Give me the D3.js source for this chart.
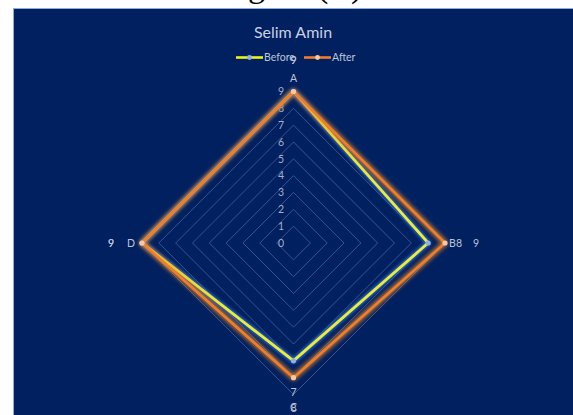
<!DOCTYPE html>
<html>
<head>
<meta charset="utf-8">
<script src="https://cdn.jsdelivr.net/npm/d3@7"></script>
<style>
  html, body { margin: 0; padding: 0; background: #ffffff; }
  svg { display: block; }
</style>
</head>
<body>
<svg id="chart" width="573" height="415"></svg>
<script>
// Radar chart data
const categories = ["A", "B", "C", "D"];
const beforeValues = [9, 8, 7, 9];
const afterValues = [9, 9, 8, 9];
const tickValues = [0, 1, 2, 3, 4, 5, 6, 7, 8, 9];
const seriesNames = ["Before", "After"];

const W = 573, H = 415;
const cx = 293.5, cy = 243;
const maxR = 151.5;

const svg = d3.select("#chart");

// Figure caption, partly above the page edge
svg.append("text")
  .attr("x", 291).attr("y", -3.5)
  .attr("text-anchor", "middle")
  .attr("font-family", "Liberation Serif, Times New Roman, serif")
  .attr("font-size", 34)
  .attr("fill", "#000")
  .text("Figure (C)");

// Chart area
svg.append("rect")
  .attr("x", 13.5).attr("y", 8.5)
  .attr("width", W).attr("height", H)
  .attr("fill", "#002060")
  .attr("stroke", "#8faadc")
  .attr("stroke-width", 1);

const defs = svg.append("defs");
function glow(id, color, dil, sd, op) {
  const f = defs.append("filter").attr("id", id)
    .attr("x", "-20%").attr("y", "-20%").attr("width", "140%").attr("height", "140%");
  f.append("feMorphology").attr("in", "SourceAlpha").attr("operator", "dilate").attr("radius", dil).attr("result", "thick");
  f.append("feGaussianBlur").attr("in", "thick").attr("stdDeviation", sd).attr("result", "blur");
  f.append("feFlood").attr("flood-color", color).attr("flood-opacity", op);
  f.append("feComposite").attr("in2", "blur").attr("operator", "in").attr("result", "glowc");
  const m = f.append("feMerge");
  m.append("feMergeNode").attr("in", "glowc");
  m.append("feMergeNode").attr("in", "SourceGraphic");
}
glow("glowBefore", "#3a7ad8", 0.8, 1.6, 0.8);
glow("glowAfter", "#f08a20", 1.0, 1.9, 0.8);

const r = d3.scaleLinear().domain([0, 9]).range([0, maxR]);
const angle = d3.scaleBand().domain(categories).range([0, 2 * Math.PI]).paddingInner(0).paddingOuter(0);
const ang = c => angle(c) - Math.PI / 2;
const px = (c, v) => cx + r(v) * Math.cos(ang(c));
const py = (c, v) => cy + r(v) * Math.sin(ang(c));

const font = "Lato, Carlito, Calibri, 'Open Sans', sans-serif";
const textColor = "#bcc4d8";

// Title
svg.append("text")
  .attr("x", 293).attr("y", 37.5)
  .attr("text-anchor", "middle")
  .attr("font-family", font)
  .attr("font-size", 16)
  .attr("fill", "#c9d0e0")
  .text("Selim Amin");

// Grid rings
const g = svg.append("g");
tickValues.filter(t => t > 0).forEach(t => {
  g.append("polygon")
    .attr("points", categories.map(c => [px(c, t), py(c, t)].join(",")).join(" "))
    .attr("fill", "none")
    .attr("stroke", "#5d76ad")
    .attr("stroke-opacity", 0.6)
    .attr("stroke-width", 1);
});

// Value axis labels
tickValues.forEach(t => {
  g.append("text")
    .attr("x", 284).attr("y", cy - r(t))
    .attr("dy", "0.35em")
    .attr("text-anchor", "end")
    .attr("font-family", font)
    .attr("font-size", 10.5)
    .attr("fill", "#a4aec8")
    .text(t);
});

// Series
const series = [
  { name: seriesNames[0], values: beforeValues, line: "#ecf21a", marker: "#8fb0e0", filter: "glowBefore" },
  { name: seriesNames[1], values: afterValues, line: "#ef7d2c", marker: "#f8c8a6", filter: "glowAfter" }
];

const lineGen = d3.line().x(d => px(d.c, d.v)).y(d => py(d.c, d.v)).curve(d3.curveLinearClosed);

series.forEach(s => {
  const pts = categories.map((c, i) => ({ c, v: s.values[i] }));
  svg.append("path")
    .attr("d", lineGen(pts))
    .attr("fill", "none")
    .attr("stroke", s.line)
    .attr("stroke-width", 2.6)
    .attr("stroke-linejoin", "miter")
    .attr("filter", `url(#${s.filter})`);
});
series.forEach(s => {
  categories.forEach((c, i) => {
    svg.append("circle")
      .attr("cx", px(c, s.values[i])).attr("cy", py(c, s.values[i]))
      .attr("r", 2.6)
      .attr("fill", s.marker);
  });
});

// Category labels
const labR = maxR + 13;
const labelShift = { A: [0, 0], B: [-9, 0], C: [0, 0], D: [6, 0] };
categories.forEach(c => {
  const a = ang(c);
  const x = cx + labR * Math.cos(a), y = cy + labR * Math.sin(a);
  const anchor = Math.abs(Math.cos(a)) < 0.1 ? "middle" : (Math.cos(a) > 0 ? "start" : "end");
  svg.append("text")
    .attr("x", x + labelShift[c][0]).attr("y", y + labelShift[c][1])
    .attr("dy", "0.35em")
    .attr("text-anchor", anchor)
    .attr("font-family", font)
    .attr("font-size", 10.5)
    .attr("fill", textColor)
    .text(c);
});

// Data labels, placed just outside each point
series.forEach(s => {
  categories.forEach((c, i) => {
    const v = s.values[i];
    const rr = r(v) + 31;
    svg.append("text")
      .attr("x", cx + rr * Math.cos(ang(c))).attr("y", cy + rr * Math.sin(ang(c)))
      .attr("dy", "0.35em")
      .attr("text-anchor", "middle")
      .attr("font-family", font)
      .attr("font-size", 10.5)
      .attr("fill", textColor)
      .text(v);
  });
});

// Legend
const legend = svg.append("g").attr("font-family", font).attr("font-size", 10.5);
const legendItems = [{ x: 236, s: series[0] }, { x: 304, s: series[1] }];
legendItems.forEach(({ x, s }) => {
  legend.append("line")
    .attr("x1", x).attr("x2", x + 27).attr("y1", 57.5).attr("y2", 57.5)
    .attr("stroke", s.line).attr("stroke-width", 2.6);
  legend.append("circle").attr("cx", x + 13.5).attr("cy", 57.5).attr("r", 2.4).attr("fill", s.marker);
  legend.append("text")
    .attr("x", x + 28).attr("y", 57.5).attr("dy", "0.35em")
    .attr("fill", textColor)
    .text(s.name);
});
</script>
</body>
</html>
